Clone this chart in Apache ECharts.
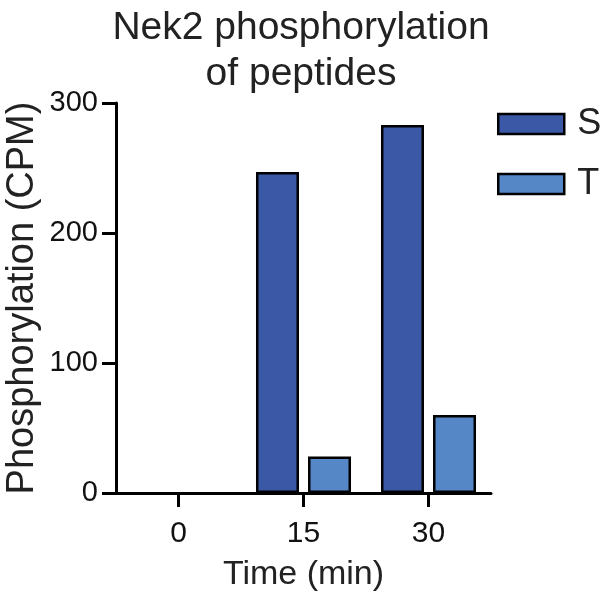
<!DOCTYPE html>
<html>
<head>
<meta charset="utf-8">
<script src="https://cdn.jsdelivr.net/npm/echarts@6/dist/echarts.min.js"></script>
<style>html,body{margin:0;padding:0;background:#fff}#c{width:601px;height:599px}</style>
</head>
<body>
<div id="c"></div>
<script>
const categories = ['0', '15', '30'];
const seriesNames = ['S', 'T'];
const valuesS = [0, 247, 283];
const valuesT = [0, 28, 60];
const yTicks = [0, 100, 200, 300];

const font = '"Liberation Sans", Arial, Helvetica, sans-serif';
const toItems = vals => vals.map(v => v === 0 ? {value: v, itemStyle: {borderWidth: 0}} : v);
const chart = echarts.init(document.getElementById('c'), null, {renderer: 'canvas'});
chart.setOption({
  animation: false,
  backgroundColor: '#ffffff',
  title: {
    text: 'Nek2 phosphorylation\nof peptides',
    left: 296, textAlign: 'center', top: 0,
    textStyle: {fontFamily: font, fontSize: 39, fontWeight: 'normal', color: '#222', lineHeight: 46}
  },
  legend: {
    orient: 'vertical', left: 497, top: 106, padding: 0,
    itemWidth: 66, itemHeight: 20, itemGap: 24,
    icon: 'rect',
    itemStyle: {borderColor: '#000', borderWidth: 2.5},
    textStyle: {fontFamily: font, fontSize: 36, color: '#222', padding: [0, 0, 0, 8]},
    data: seriesNames
  },
  grid: {left: 116, top: 103, width: 375, height: 390, containLabel: false, outerBoundsMode: 'none'},
  xAxis: {
    type: 'category', data: categories,
    name: 'Time (min)', nameLocation: 'middle', nameGap: 65, nameMoveOverlap: false,
    nameTextStyle: {fontFamily: font, fontSize: 34, color: '#222'},
    axisLine: {lineStyle: {color: '#000', width: 3}},
    axisTick: {show: true, alignWithLabel: true, length: 14, lineStyle: {color: '#000', width: 3}},
    axisLabel: {fontFamily: font, fontSize: 30, color: '#111', margin: 26}
  },
  yAxis: {
    type: 'value', min: yTicks[0], max: yTicks[yTicks.length - 1], interval: 100,
    name: 'Phosphorylation (CPM)', nameLocation: 'middle', nameGap: 74, nameRotate: 90, nameMoveOverlap: false,
    nameTextStyle: {fontFamily: font, fontSize: 38, color: '#222'},
    splitLine: {show: false},
    axisLine: {show: true, lineStyle: {color: '#000', width: 3}},
    axisTick: {show: true, length: 14, lineStyle: {color: '#000', width: 3}},
    axisLabel: {fontFamily: font, fontSize: 29, color: '#111', margin: 18}
  },
  series: [
    {name: seriesNames[0], type: 'bar', data: toItems(valuesS), barWidth: 43, barGap: '21%',
     itemStyle: {color: '#3b58a6', borderColor: '#000', borderWidth: 2.5}},
    {name: seriesNames[1], type: 'bar', data: toItems(valuesT), barWidth: 43,
     itemStyle: {color: '#5587c6', borderColor: '#000', borderWidth: 2.5}}
  ]
});
</script>
</body>
</html>
